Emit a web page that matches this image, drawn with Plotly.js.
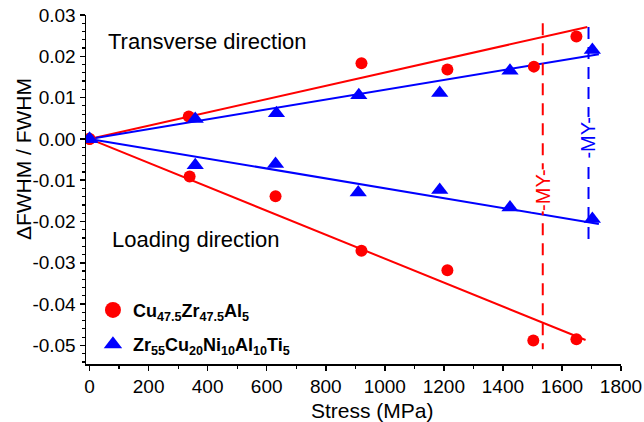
<!DOCTYPE html>
<html>
<head>
<meta charset="utf-8">
<script src="https://cdn.plot.ly/plotly-3.0.1.min.js"></script>
<style>html,body{margin:0;padding:0;background:#fff;}#chart{width:644px;height:422px;}</style>
</head>
<body>
<div id="chart"></div>
<script>
// ---- data ----
const cuTransX = [0, 336, 921, 1212, 1505, 1649];
const cuTransY = [0, 0.0054, 0.0183, 0.0168, 0.0175, 0.0248];
const cuLoadX = [0, 339, 630, 921, 1212, 1503, 1649];
const cuLoadY = [0, -0.0091, -0.0139, -0.0271, -0.0318, -0.0488, -0.0485];
const zrTransX = [0, 358, 633, 912, 1186, 1424, 1703];
const zrTransY = [0, 0.0048, 0.0062, 0.0106, 0.0111, 0.0165, 0.0215];
const zrLoadX = [0, 358, 630, 910, 1186, 1424, 1703];
const zrLoadY = [0, -0.0064, -0.0061, -0.0130, -0.0124, -0.0166, -0.0194];

// linear fit lines (endpoints)
const cuTransFitX = [0, 1686];
const cuTransFitY = [0, 0.0271];
const cuLoadFitX = [0, 1680];
const cuLoadFitY = [0, -0.0487];
const zrTransFitX = [0, 1725];
const zrTransFitY = [0, 0.0205];
const zrLoadFitX = [0, 1725];
const zrLoadFitY = [0, -0.0206];

// macroscopic yield (MY) markers
const cuYieldX = [1535, 1535];
const cuYieldY = [0.0280, -0.0509];
const zrYieldX = [1690, 1690];
const zrYieldY = [0.0271, -0.0255];

const xTickVals = [0, 200, 400, 600, 800, 1000, 1200, 1400, 1600, 1800];
const yTickVals = [-0.05, -0.04, -0.03, -0.02, -0.01, 0.00, 0.01, 0.02, 0.03];
const yTickText = ['-0.05', '-0.04', '-0.03', '-0.02', '-0.01', '0.00', '0.01', '0.02', '0.03'];

const cuName = '<b>Cu<sub>47.5</sub>Zr<sub>47.5</sub>Al<sub>5</sub></b>';
const zrName = '<b>Zr<sub>55</sub>Cu<sub>20</sub>Ni<sub>10</sub>Al<sub>10</sub>Ti<sub>5</sub></b>';

const RED = '#ff0000', BLUE = '#0000ff';
const FONT = 'Liberation Sans, Arial, sans-serif';

function line(x, y, color, dash) {
  return {x: x, y: y, mode: 'lines', type: 'scatter', showlegend: false, hoverinfo: 'skip',
          line: {color: color, width: 2, dash: dash || 'solid'}};
}
function pts(x, y, color, symbol, size) {
  return {x: x, y: y, mode: 'markers', type: 'scatter', showlegend: false,
          marker: {color: color, symbol: symbol, size: size}};
}

const data = [
  line(cuTransFitX, cuTransFitY, RED),
  line(cuLoadFitX, cuLoadFitY, RED),
  line(zrTransFitX, zrTransFitY, BLUE),
  line(zrLoadFitX, zrLoadFitY, BLUE),
  line(cuYieldX, cuYieldY, RED, '12px,8px'),
  line(zrYieldX, zrYieldY, BLUE, '12px,8px'),
  pts(cuTransX, cuTransY, RED, 'circle', 12),
  pts(cuLoadX, cuLoadY, RED, 'circle', 12),
  pts(zrTransX, zrTransY, BLUE, 'triangle-up', 15),
  pts(zrLoadX, zrLoadY, BLUE, 'triangle-up', 15),
  {x: [null], y: [null], mode: 'markers', type: 'scatter', name: cuName, legendgroup: 'cu',
   marker: {color: RED, symbol: 'circle', size: 17}},
  {x: [null], y: [null], mode: 'markers', type: 'scatter', name: zrName, legendgroup: 'zr',
   marker: {color: BLUE, symbol: 'triangle-up', size: 17}}
];

const layout = {
  width: 644, height: 422,
  margin: {l: 86, r: 23, t: 15, b: 58},
  paper_bgcolor: '#fff', plot_bgcolor: '#fff',
  font: {family: FONT, size: 18, color: '#000'},
  showlegend: true,
  legend: {x: 0.013, y: 0.207, xanchor: 'left', yanchor: 'top', bgcolor: 'rgba(0,0,0,0)',
           font: {family: FONT, size: 18, color: '#000'}, tracegroupgap: 8, itemsizing: 'trace'},
  xaxis: {
    range: [-12, 1800], showgrid: false, zeroline: false,
    showline: true, linecolor: '#000', linewidth: 1.5,
    ticks: 'outside', ticklen: 5, tickwidth: 1.5, tickcolor: '#000',
    tickvals: xTickVals, tickfont: {family: FONT, size: 19},
    minor: {dtick: 100, ticks: 'outside', ticklen: 3, tickwidth: 1.2, tickcolor: '#000', showgrid: false}
  },
  yaxis: {
    range: [-0.0545, 0.03], showgrid: false, zeroline: false,
    showline: true, linecolor: '#000', linewidth: 1.5,
    ticks: 'outside', ticklen: 5, tickwidth: 1.5, tickcolor: '#000',
    tickvals: yTickVals, ticktext: yTickText, tickfont: {family: FONT, size: 19},
    minor: {dtick: 0.002, ticks: 'outside', ticklen: 3, tickwidth: 1.2, tickcolor: '#000', showgrid: false}
  },
  annotations: [
    {text: 'Transverse direction', x: 399, y: 0.0236, xref: 'x', yref: 'y', showarrow: false,
     font: {family: FONT, size: 22, color: '#000'}},
    {text: 'Loading direction', x: 361, y: -0.0243, xref: 'x', yref: 'y', showarrow: false,
     font: {family: FONT, size: 22, color: '#000'}},
    {text: '-MY-', x: 1535, y: -0.0124, xref: 'x', yref: 'y', showarrow: false, textangle: -90,
     bgcolor: '#fff', borderpad: 0, font: {family: FONT, size: 20, color: RED}},
    {text: '-MY-', x: 1690, y: 0.0002, xref: 'x', yref: 'y', showarrow: false, textangle: -90,
     bgcolor: '#fff', borderpad: 0, font: {family: FONT, size: 20, color: BLUE}},
    {text: 'Stress (MPa)', x: 0.5355, y: -0.132, xref: 'paper', yref: 'paper', showarrow: false,
     xanchor: 'center', yanchor: 'middle', font: {family: FONT, size: 21, color: '#000'}},
    {text: '\u0394FWHM / FWHM', x: -0.1178, y: 0.587, xref: 'paper', yref: 'paper', showarrow: false,
     textangle: -90, xanchor: 'center', yanchor: 'middle', font: {family: FONT, size: 21, color: '#000'}}
  ]
};

Plotly.newPlot('chart', data, layout, {staticPlot: true, displayModeBar: false});
</script>
</body>
</html>
